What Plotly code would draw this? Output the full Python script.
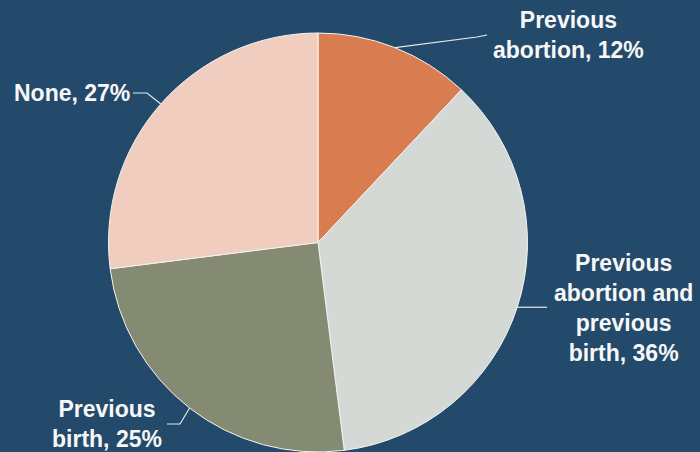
import math
import plotly.graph_objects as go

# ---- data ----
labels = ["Previous abortion", "Previous abortion and previous birth", "Previous birth", "None"]
values = [12, 36, 25, 27]
colors = ["#D97C50", "#D4D9D6", "#858B72", "#F0CDBF"]
label_texts = [
    "Previous<br>abortion, 12%",
    "Previous<br>abortion and<br>previous<br>birth, 36%",
    "Previous<br>birth, 25%",
    "None, 27%",
]

W, H = 700, 452
BG = "#234A6B"

# pie placement (pixels)
cx, cy, r = 318, 242.5, 209.5
dom_x = [(cx - r) / W, (cx + r) / W]
dom_y = [0, (2 * r) / H]

fig = go.Figure(go.Pie(
    labels=labels, values=values, sort=False, direction="clockwise", rotation=0,
    marker=dict(colors=colors, line=dict(color="#F4F4F4", width=1)),
    textinfo="none", hoverinfo="label+percent",
    domain=dict(x=dom_x, y=dom_y), showlegend=False,
))

def px2paper(x, y):
    return x / W, 1 - y / H

# leader lines: start at mid-angle of each slice on circle edge
total = sum(values)
cum = 0
mid_pts = []
for v in values:
    a = (cum + v / 2) / total * 2 * math.pi
    mid_pts.append((cx + r * math.sin(a), cy - r * math.cos(a)))
    cum += v

leader_paths = [
    [(477, 37), (487, 35)],
    [(547, mid_pts[1][1])],
    [(180, 424), (167, 424)],
    [(147, 93), (133, 93)],
]
shapes = []
for (sx, sy), path in zip(mid_pts, leader_paths):
    pts = [(sx, sy)] + path
    d = "M " + " L ".join(f"{x/W:.5f},{1 - y/H:.5f}" for x, y in pts)
    shapes.append(dict(type="path", path=d, xref="paper", yref="paper",
                       line=dict(color="#E6E9EC", width=1.2)))

label_pos = [
    (568, 35, "center"),
    (623, 308, "center"),
    (107, 424, "center"),
    (72, 93, "center"),
]
annotations = []
for txt, (x, y, xa) in zip(label_texts, label_pos):
    px, py = px2paper(x, y)
    annotations.append(dict(
        text=txt, x=px, y=py, xref="paper", yref="paper", xanchor=xa, yanchor="middle",
        showarrow=False, align="center",
        font=dict(family="Liberation Sans, Arial, sans-serif", size=23, color="#F7F7F7", weight="bold"),
    ))

fig.update_layout(
    width=W, height=H, margin=dict(l=0, r=0, t=0, b=0),
    paper_bgcolor=BG, plot_bgcolor=BG,
    shapes=shapes, annotations=annotations,
)

fig.write_html(
    "out.html",
    config={"displayModeBar": False},
    post_script="document.body.style.margin='0';document.body.style.padding='0';document.body.style.overflow='hidden';",
)
